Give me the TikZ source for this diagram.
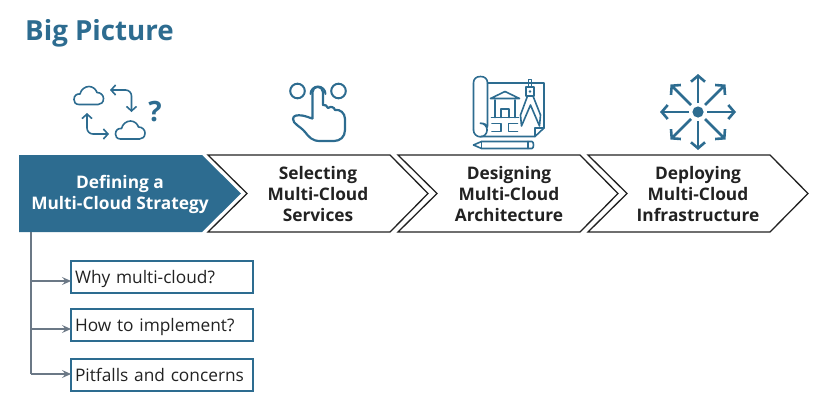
\documentclass[tikz,border=0pt]{standalone}
\usepackage{fontspec}
\setmainfont{Open Sans}
\usetikzlibrary{arrows.meta,
                positioning}
\definecolor{bigblue}{HTML}{2D6C90}
\definecolor{linkgray}{HTML}{6B7886}
\definecolor{inkgray}{HTML}{222222}
\tikzset{
        stepshape/.style={draw=inkgray, fill=white, line width=1.3pt, miter limit=10},
        activeshape/.style={fill=bigblue},
        steplabel/.style={align=center, font=\fontsize{17.3}{21}\selectfont\bfseries, text=inkgray},
        optbox/.style={draw=bigblue, line width=1.8pt, minimum width=182pt, minimum height=32pt,
                       text width=174pt, inner sep=4pt, outer sep=0pt, align=left, text=inkgray,
                       text height=14.5pt, text depth=1.5pt, font=\fontsize{17.3}{20}\selectfont},
        myarrow/.style={-{Stealth[length=9pt,width=8pt,inset=3.5pt]}, draw=linkgray, line width=1.2pt},
        trunk/.style={draw=linkgray, line width=1.7pt},
        icon/.style={draw=bigblue, line width=1.6pt, line join=round, line cap=round},
        iconthick/.style={draw=bigblue, line width=2.6pt, line join=round},
        barb/.style={{Straight Barb[length=4.5pt,width=10pt,line width=1.6pt]}-{Straight Barb[length=4.5pt,width=10pt,line width=1.6pt]}, rounded corners=6pt},
        spoke/.style={iconthick, -{Straight Barb[length=6pt,width=14pt,line width=2.6pt]}},
        cloudicon/.pic={
            \draw[icon] (5,0) .. controls (1,0) and (0,-3) .. (0,-5)
                .. controls (0,-9) and (3,-11) .. (6,-10.5)
                .. controls (7,-15) and (11,-18) .. (15,-18)
                .. controls (19,-18) and (22,-15) .. (23,-12)
                .. controls (27,-12) and (29.5,-9) .. (29.5,-6)
                .. controls (29.5,-2) and (27,0) .. (24,0) -- cycle;
        },
}

\begin{document}
\begin{tikzpicture}[x=1pt, y=-1pt]
    \useasboundingbox (0,0) rectangle (823,407);

    \node[anchor=base west, inner sep=0pt, text=bigblue, font=\fontsize{27.7}{30}\selectfont\bfseries] (title) at (25,40) {Big Picture};

    % chevrons
    \fill[activeshape] (19,155) -- (202,155) -- (241,193.5) -- (202,232) -- (19,232) -- cycle;
    \draw[stepshape] (208,155) -- (390,155) -- (428,193.5) -- (390,232) -- (208,232) -- (247,193.5) -- cycle;
    \draw[stepshape] (398,155) -- (580,155) -- (618,193.5) -- (580,232) -- (398,232) -- (437,193.5) -- cycle;
    \draw[stepshape] (588,155) -- (770,155) -- (808,193.5) -- (770,232) -- (588,232) -- (627,193.5) -- cycle;

    \node[steplabel, text=white] (define) at (120,194.5) {Defining a\\Multi-Cloud Strategy};
    \node[steplabel] (select) at (318,194.5) {Selecting\\Multi-Cloud\\Services};
    \node[steplabel] (design) at (509,194.5) {Designing\\Multi-Cloud\\Architecture};
    \node[steplabel] (deploy) at (698,194.5) {Deploying\\Multi-Cloud\\Infrastructure};

    % sub items
    \node[optbox, anchor=north west] (why) at (71,261) {Why multi-cloud?};
    \node[optbox, below=16pt of why] (how) {How to implement?};
    \node[optbox, below=18pt of how] (pit) {Pitfalls and concerns};

    \coordinate (top) at (31,232);
    \coordinate (t1) at (31,281);
    \coordinate (t2) at (31,329);
    \coordinate (t3) at (31,374);
    \draw[trunk] (top) -- (t3);
    \draw[myarrow] (t1) -- (t1 -| why.west);
    \draw[myarrow] (t2) -- (t2 -| how.west);
    \draw[myarrow] (t3) -- (t3 -| pit.west);

    % clouds icon
    \pic at (74,104.5) {cloudicon};
    \pic at (115.5,139) {cloudicon};
    \draw[icon, barb] (110,90) -- (131.5,90) -- (131.5,112);
    \draw[icon, barb] (109,134) -- (87,134) -- (87,113);
    \node[text=bigblue, font=\fontsize{28}{28}\selectfont, inner sep=0pt] (quest) at (155,112) {\textbf{?}};

    % hand icon
    \draw[icon, line width=2pt] (297.5,91) circle (7.3);
    \draw[icon, line width=2pt] (338.5,91) circle (7.3);
    \draw[icon, line width=2pt] (310.5,94) arc (180:360:7.5);
    \draw[icon, line width=2.2pt] (312.5,118.5) -- (312.5,92) arc (180:360:5.2) -- (322.9,105)
        .. controls (325,104) and (327,106) .. (328,108)
        .. controls (331,106) and (334,107) .. (335,110)
        .. controls (340,109) and (345,113) .. (345,119)
        -- (345,130) .. controls (345,137) and (340,141) .. (334,141)
        -- (320,141) .. controls (312,141) and (309,137) .. (305,132)
        .. controls (300,126) and (293,124) .. (293,119)
        .. controls (293,115) and (298,115) .. (302,115.5)
        .. controls (306,116) and (310,118) .. (312.5,118.5);

    % blueprint icon
    \draw[icon] (473.5,130) -- (473.5,83) .. controls (473.5,79) and (476,76.5) .. (480.5,76.5)
        .. controls (485,76.5) and (487.5,79) .. (487.5,83) -- (487.5,126);
    \draw[icon] (473.5,130) arc (180:-90:6.8) (480.5,123.2) .. controls (484,123.2) and (487.5,125) .. (487.5,127);
    \draw[icon] (487.5,83) -- (544,83) -- (544,128) -- (535,136.5) -- (481,136.5);
    \draw[icon] (544,128) -- (535,128) -- (535,136.5);
    \draw[icon] (490.5,98.5) -- (505,91.5) -- (519.5,98.5) -- cycle;
    \draw[icon] (495,100) -- (495,117.5) (515,100) -- (515,117.5) (491.5,117.5) -- (518.5,117.5);
    \draw[icon] (501,117.5) -- (501,109) -- (509,109) -- (509,117.5);
    \draw[icon] (492,123.5) -- (501,123.5) -- (501,131.5) -- (492,131.5);
    \draw[icon] (517.5,123.5) -- (508.5,123.5) -- (508.5,131.5) -- (517.5,131.5);
    \draw[icon] (528.5,87) -- (528.5,79.5) -- (531.5,79.5) -- (531.5,87);
    \draw[icon] (526,87) rectangle (534,96);
    \draw[icon] (527.5,96) -- (520.5,115) -- (521.5,126) -- (530.5,105) -- (539.5,126) -- (540.5,115) -- (533,96);
    \fill[bigblue] (530,91.5) circle (1.3);
    \draw[icon] (473.5,145) -- (481.5,141.5) -- (532,141.5) .. controls (534,141.5) and (534,148.5) .. (532,148.5) -- (481.5,148.5) -- cycle;
    \draw[icon] (481.5,141.5) -- (481.5,148.5) (528,141.5) -- (528,148.5);

    % deploy icon
    \fill[bigblue] (698,112) circle (5.6);
    \foreach \dx/\dy in {0/-1,0/1,1/0,-1/0}{
        \draw[spoke] (698+9*\dx,112+9*\dy) -- (698+38*\dx,112+38*\dy);
    }
    \foreach \dx/\dy in {1/1,1/-1,-1/1,-1/-1}{
        \draw[spoke] (698+7*\dx,112+7*\dy) -- (698+27.5*\dx,112+27.5*\dy);
    }
\end{tikzpicture}
\end{document}
